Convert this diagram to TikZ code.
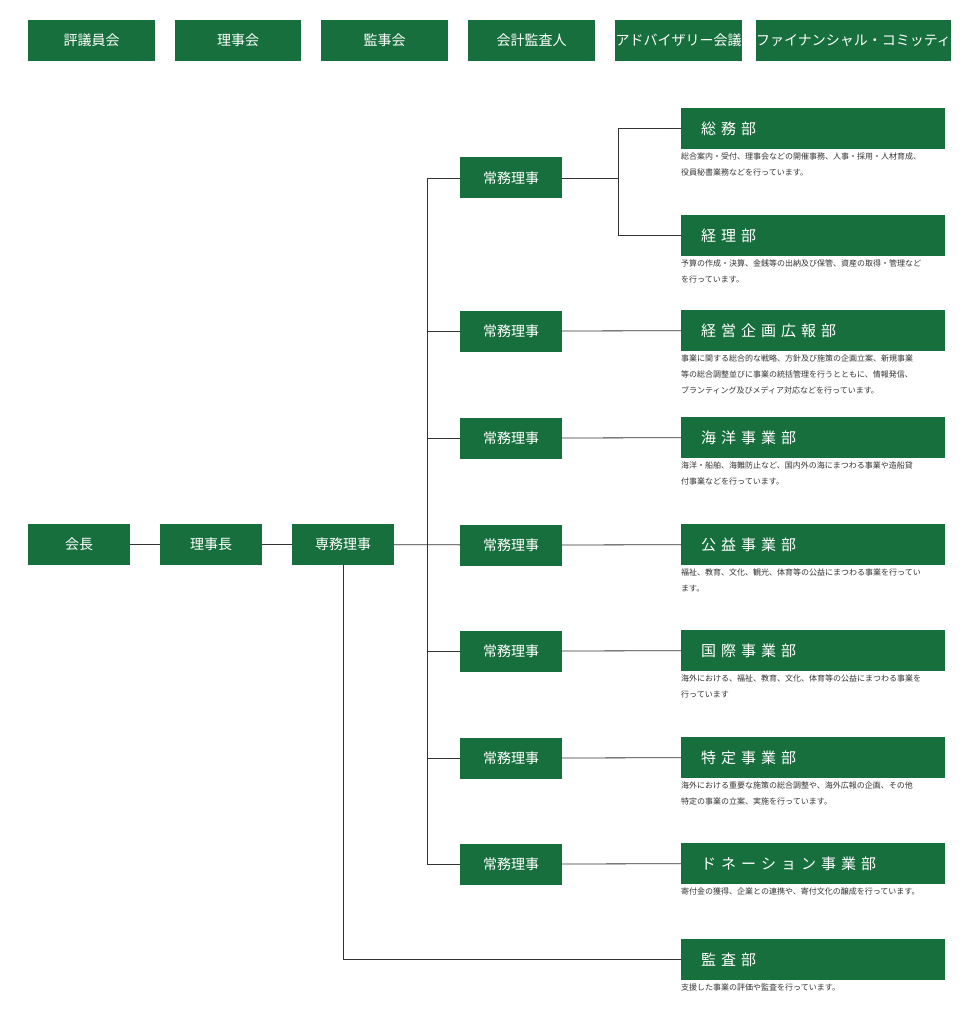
\documentclass[tikz,border=0pt]{standalone}
\usepackage{fontspec}
\setmainfont{Noto Sans CJK JP}
\definecolor{grn}{HTML}{166F3C}
\definecolor{txt}{HTML}{333333}
\begin{document}
\begin{tikzpicture}[x=1pt,y=-1pt,
 gbox/.style={fill=grn,text=white,inner sep=0pt,font=\fontsize{14}{16}\selectfont},
 dbox/.style={fill=grn,text=white,inner sep=0pt,minimum width=264pt,minimum height=41pt,anchor=north west,align=left,text width=264pt,font=\fontsize{15}{17}\selectfont},
 desc/.style={anchor=north west,inner sep=0pt,text=txt,font=\fontsize{8}{16}\selectfont,text width=268pt,align=left},
 ln/.style={draw=black!80,line width=0.8pt}]
\useasboundingbox (0,0) rectangle (970,1024);
% top row
\foreach \n/\a/\b/\t in {t1/28/155/評議員会,t2/175/301/理事会,t3/321/448/監事会,t4/468/595/会計監査人,t5/615/742/アドバイザリー会議,t6/762/945/ファイナンシャル・コミッティ}{
 \node[gbox,minimum width={\b-\a},minimum height=41pt] (\n) at ({(\a+\b)/2},40.5) {\t};}
% left chain
\node[gbox,minimum width=102pt,minimum height=41pt] (kai) at (79,544.5) {会長};
\node[gbox,minimum width=102pt,minimum height=41pt] (rij) at (211,544.5) {理事長};
\node[gbox,minimum width=102pt,minimum height=41pt] (sen) at (343,544.5) {専務理事};
\foreach \i/\y in {1/178,2/331,3/438,4/545,5/651,6/758,7/864}{
 \node[gbox,minimum width=102pt,minimum height=41pt] (j\i) at (511,\y) {常務理事};}
% departments
\foreach \n/\y/\t in {d1/108/総\,\,務\,\,部,d2/215/経\,\,理\,\,部,d3/310/経\,\,営\,\,企\,\,画\,\,広\,\,報\,\,部,d4/417/海\,\,洋\,\,事\,\,業\,\,部,d5/524/公\,\,益\,\,事\,\,業\,\,部,d6/630/国\,\,際\,\,事\,\,業\,\,部,d7/737/特\,\,定\,\,事\,\,業\,\,部,d8/843/ド\,\,ネ\,\,ー\,\,シ\,\,ョ\,\,ン\,\,事\,\,業\,\,部,d9/939/監\,\,査\,\,部}{
 \node[dbox] (\n) at (681,\y) {\hspace*{20pt}\t};}
\node[desc] (e1) at (681,153) {総合案内・受付、理事会などの開催事務、人事・採用・人材育成、\\役員秘書業務などを行っています。};
\node[desc] (e2) at (681,260) {予算の作成・決算、金銭等の出納及び保管、資産の取得・管理など\\を行っています。};
\node[desc] (e3) at (681,355) {事業に関する総合的な戦略、方針及び施策の企画立案、新規事業\\等の総合調整並びに事業の統括管理を行うとともに、情報発信、\\ブランティング及びメディア対応などを行っています。};
\node[desc] (e4) at (681,462) {海洋・船舶、海難防止など、国内外の海にまつわる事業や造船貸\\付事業などを行っています。};
\node[desc] (e5) at (681,569) {福祉、教育、文化、観光、体育等の公益にまつわる事業を行ってい\\ます。};
\node[desc] (e6) at (681,675) {海外における、福祉、教育、文化、体育等の公益にまつわる事業を\\行っています};
\node[desc] (e7) at (681,782) {海外における重要な施策の総合調整や、海外広報の企画、その他\\特定の事業の立案、実施を行っています。};
\node[desc] (e8) at (681,888) {寄付金の獲得、企業との連携や、寄付文化の醸成を行っています。};
\node[desc] (e9) at (681,984) {支援した事業の評価や監査を行っています。};
% connectors
\coordinate (tr) at (427,545);
\coordinate (br) at (618,178);
\draw[ln] (kai) -- (rij);
\draw[ln] (rij) -- (sen);
\draw[ln] (sen) -- (j4);
\draw[ln] (j1.west) -| (j7.west -| tr) -- (j7.west);
\foreach \i in {2,3,5,6}{\draw[ln] (j\i.west -| tr) -- (j\i.west);}
\draw[ln] (j1.east) -- (br);
\draw[ln] (d1.west) -| (d2.west -| br) -- (d2.west);
\foreach \i in {2,...,7}{\pgfmathtruncatemacro\k{\i+1}\draw[ln] (j\i.east) -- (d\k.west);}
\draw[ln] (sen.south) |- (d9.west);
\end{tikzpicture}
\end{document}
